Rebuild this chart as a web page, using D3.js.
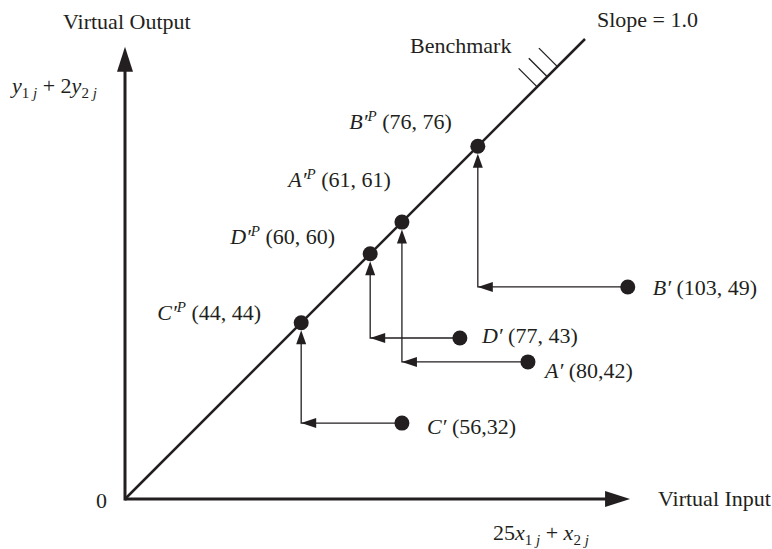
<!DOCTYPE html>
<html>
<head>
<meta charset="utf-8">
<script src="https://cdn.jsdelivr.net/npm/d3@7"></script>
<style>
  body { margin: 0; background: #fff; }
  text { font-family: "Liberation Serif", "Times New Roman", serif; font-size: 22px; fill: #231f20; }
</style>
</head>
<body>
<div id="chart"></div>
<script>
// scaled DMUs: virtual input / virtual output, and their projection on the benchmark line
const units = ["A", "B", "C", "D"];
const virtualInput = [80, 103, 56, 77];
const virtualOutput = [42, 49, 32, 43];
const projected = [61, 76, 44, 60];
const labelSep = ["", " ", "", " "];   // the figure writes "(80,42)" but "(77, 43)"

// the figure is not drawn to scale: where each mark sits on a 0-100 diagram grid
const drawnInput = [87.6, 109.3, 60.2, 72.8];
const drawnOutput = [29.8, 46.1, 16.5, 35.0];
const drawnTarget = [60.2, 76.7, 38.3, 53.3];
const benchmarkTicks = [89.6, 91.8, 94.0];

const width = 772, height = 549;
const margin = { left: 125, top: 39 };
const plot = 460;
const ink = "#231f20";

const svg = d3.select("#chart").append("svg")
  .attr("width", width)
  .attr("height", height);

const g = svg.append("g")
  .attr("transform", `translate(${margin.left},${margin.top})`);

const x = d3.scaleLinear().domain([0, 100]).range([0, plot]);
const y = d3.scaleLinear().domain([0, 100]).range([plot, 0]);

// filled arrow head, tip at (tx,ty), pointing along (ux,uy)
function arrowHead(tx, ty, ux, uy, len, half) {
  const bx = tx - ux * len, by = ty - uy * len;
  const px = -uy * half, py = ux * half;
  g.append("path")
    .attr("d", `M${tx},${ty}L${bx + px},${by + py}L${bx - px},${by - py}Z`)
    .attr("fill", ink);
}

// axes
const xEnd = 109.8, yEnd = 98.3;
g.append("line")
  .attr("x1", x(0)).attr("y1", y(0))
  .attr("x2", x(xEnd) - 20).attr("y2", y(0))
  .attr("stroke", ink).attr("stroke-width", 3);
arrowHead(x(xEnd), y(0), 1, 0, 25, 8);

g.append("line")
  .attr("x1", x(0)).attr("y1", y(0) + 1.5)
  .attr("x2", x(0)).attr("y2", y(yEnd) + 20)
  .attr("stroke", ink).attr("stroke-width", 3);
arrowHead(x(0), y(yEnd), 0, -1, 25, 8);

// benchmark line (slope 1)
g.append("line")
  .attr("x1", x(0)).attr("y1", y(0))
  .attr("x2", x(100)).attr("y2", y(100))
  .attr("stroke", ink).attr("stroke-width", 2.5);

g.selectAll(".hatch")
  .data(benchmarkTicks)
  .enter().append("line")
  .attr("class", "hatch")
  .attr("x1", d => x(d)).attr("y1", d => y(d))
  .attr("x2", d => x(d) - 18.5).attr("y2", d => y(d) - 18.5)
  .attr("stroke", ink).attr("stroke-width", 1.3);

const data = units.map((u, i) => ({
  unit: u,
  vin: virtualInput[i],
  vout: virtualOutput[i],
  proj: projected[i],
  sep: labelSep[i],
  ox: x(drawnInput[i]),
  oy: y(drawnOutput[i]),
  px: x(drawnTarget[i]),
  py: y(drawnTarget[i])
}));

const r = 7.5;

// projection arrows: left to the target's input level, then up to the line
data.forEach(d => {
  g.append("path")
    .attr("d", `M${d.ox},${d.oy}H${d.px}V${d.py + r + 4}`)
    .attr("fill", "none")
    .attr("stroke", ink)
    .attr("stroke-width", 1.3);
  arrowHead(d.px, d.oy, -1, 0, 15, 5);
  arrowHead(d.px, d.py + r, 0, -1, 14, 5);
});

g.selectAll(".obs")
  .data(data)
  .enter().append("circle")
  .attr("class", "obs")
  .attr("cx", d => d.ox).attr("cy", d => d.oy)
  .attr("r", r).attr("fill", ink);

g.selectAll(".target")
  .data(data)
  .enter().append("circle")
  .attr("class", "target")
  .attr("cx", d => d.px).attr("cy", d => d.py)
  .attr("r", r).attr("fill", ink);

// label nudges in pixels
const obsOffset = { A: [17, 16], B: [25, 8], C: [25, 11], D: [22, 5] };
const targetOffset = { A: [-11, -35], B: [-26, -17], C: [-40, -3], D: [-35, -10] };

data.forEach(d => {
  const t = g.append("text")
    .attr("x", d.ox + obsOffset[d.unit][0])
    .attr("y", d.oy + obsOffset[d.unit][1]);
  t.append("tspan").style("font-style", "italic").text(d.unit + "\u2032");
  t.append("tspan").text(` (${d.vin},${d.sep}${d.vout})`);

  const p = g.append("text")
    .attr("x", d.px + targetOffset[d.unit][0])
    .attr("y", d.py + targetOffset[d.unit][1])
    .attr("text-anchor", "end");
  p.append("tspan").style("font-style", "italic").text(d.unit + "\u2032");
  p.append("tspan").style("font-style", "italic").style("font-size", "15px")
    .attr("dy", -8).text("P");
  p.append("tspan").attr("dy", 8).text(` (${d.proj}, ${d.proj})`);
});

// titles
svg.append("text").attr("x", 63).attr("y", 29).text("Virtual Output");
svg.append("text").attr("x", 658).attr("y", 506).text("Virtual Input");
svg.append("text").attr("x", 597).attr("y", 27).text("Slope = 1.0");
svg.append("text").attr("x", 410).attr("y", 53).text("Benchmark");
svg.append("text").attr("x", 96).attr("y", 508).text("0");

// weighted sums with subscripts
function weighted(xPos, yPos, parts) {
  const t = svg.append("text").attr("x", xPos).attr("y", yPos);
  parts.forEach(([txt, kind]) => {
    const s = t.append("tspan").text(txt);
    if (kind === "i") s.style("font-style", "italic");
    if (kind === "sub") {
      s.style("font-size", "15px").attr("dy", 5);
    }
    if (kind === "subi") {
      s.style("font-size", "15px").style("font-style", "italic");
    }
    if (kind === "back") s.attr("dy", -5);
  });
}

weighted(12, 93, [["y", "i"], ["1 ", "sub"], ["j", "subi"], [" + 2", "back"],
  ["y", "i"], ["2 ", "sub"], ["j", "subi"]]);
weighted(493, 540, [["25", ""], ["x", "i"], ["1 ", "sub"], ["j", "subi"], [" + ", "back"],
  ["x", "i"], ["2 ", "sub"], ["j", "subi"]]);
</script>
</body>
</html>
